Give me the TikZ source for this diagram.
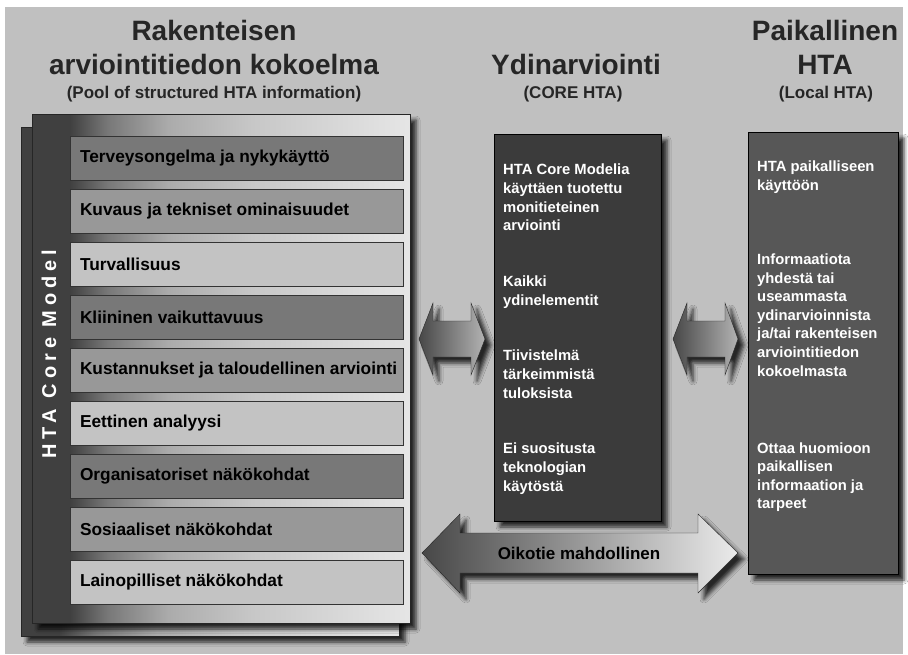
\documentclass[tikz,border=0pt]{standalone}
\usepackage{fontspec}
\setmainfont{Liberation Sans}
\usetikzlibrary{shadows.blur}

\definecolor{bggray}{HTML}{C0C0C0}
\definecolor{titlegray}{HTML}{262626}
\definecolor{rowdark}{HTML}{787878}
\definecolor{rowmid}{HTML}{989898}
\definecolor{rowlight}{HTML}{C3C3C3}
\definecolor{corefill}{HTML}{3B3B3B}
\definecolor{localfill}{HTML}{575757}

% dark strip on the left, fading to light grey on the right
\pgfdeclarehorizontalshading{panelshade}{100bp}{color(0bp)=(black!75); color(30bp)=(black!75);
  color(35bp)=(black!53); color(43bp)=(black!33); color(54bp)=(black!22);
  color(75bp)=(black!10); color(100bp)=(black!10)}

\begin{document}
\begin{tikzpicture}[
  x=1pt, y=-1pt,
  title/.style={font=\bfseries\fontsize{28}{32}\selectfont, text=titlegray, anchor=base, inner sep=0pt},
  subtitle/.style={font=\bfseries\fontsize{17}{20}\selectfont, text=titlegray, anchor=base, inner sep=0pt},
  softshadow/.style={blur shadow={shadow xshift=6pt, shadow yshift=-6pt, shadow opacity=80, shadow blur radius=4pt}},
  panel/.style={draw=black!85, shade, shading=panelshade, minimum width=378pt, minimum height=509pt, inner sep=0pt, softshadow},
  rowbox/.style={draw=black!80, minimum width=333pt, minimum height=44.5pt, inner sep=0pt},
  rowtext/.style={anchor=west, inner sep=0pt, font=\bfseries\fontsize{17.3}{20}\selectfont},
  infobox/.style={draw=black, inner sep=0pt, softshadow},
  infotext/.style={text=white, font=\bfseries\fontsize{14.8}{18.6}\selectfont, align=left, anchor=north west, inner sep=0pt},
  blockarrow/.style={draw=black!85, softshadow},
]
\useasboundingbox (0,0) rectangle (908,654);
\fill[white] (0,0) rectangle (908,654);
\fill[bggray] (5,7) rectangle (903,654);

% --- Headings ---
\node[title] (pooltitle1) at (214,40) {Rakenteisen};
\node[title] (pooltitle2) at (214,74) {arviointitiedon kokoelma};
\node[subtitle] (poolsub) at (214,98) {(Pool of structured HTA information)};
\node[title] (coretitle) at (576,74) {Ydinarviointi};
\node[subtitle] (coresub) at (573,98) {(CORE HTA)};
\node[title] (localtitle1) at (825,40) {Paikallinen};
\node[title] (localtitle2) at (825,74) {HTA};
\node[subtitle] (localsub) at (826,98) {(Local HTA)};

% --- Left: stacked pool of domains ---
\node[panel] (backpanel) at (210,381.5) {};
\node[panel] (frontpanel) at (221,368.5) {};
\node[rotate=90, text=white, inner sep=0pt, font=\bfseries\fontsize{20}{24}\selectfont\addfontfeature{LetterSpace=25}]
  (coremodel) at (49,354) {HTA Core Model};

\foreach \i/\rowfill/\txt in {
  1/rowdark/Terveysongelma ja nykykäyttö,
  2/rowmid/Kuvaus ja tekniset ominaisuudet,
  3/rowlight/Turvallisuus,
  4/rowdark/Kliininen vaikuttavuus,
  5/rowmid/Kustannukset ja taloudellinen arviointi,
  6/rowlight/Eettinen analyysi,
  7/rowdark/Organisatoriset näkökohdat,
  8/rowmid/Sosiaaliset näkökohdat,
  9/rowlight/Lainopilliset näkökohdat} {
  \node[rowbox, fill=\rowfill] (row\i) at (236.5, {158.25 + 53*(\i-1)}) {};
  \node[rowtext] (rowtxt\i) at ([xshift=10pt]row\i.west) {\txt};
}

% --- Middle: core assessment ---
\node[infobox, fill=corefill, minimum width=167pt, minimum height=387pt] (corebox) at (577.5,327.5) {};
\node[infotext] (coretext) at (503,164) {HTA Core Modelia\\ käyttäen tuotettu\\ monitieteinen\\ arviointi\\[37.2pt]
  Kaikki\\ ydinelementit\\[37.2pt]
  Tiivistelmä\\ tärkeimmistä\\ tuloksista\\[37.2pt]
  Ei suositusta\\ teknologian\\ käytöstä};

% --- Right: local HTA ---
\node[infobox, fill=localfill, minimum width=150pt, minimum height=442pt] (localbox) at (823,353) {};
\node[infotext] (localtext) at (757,161) {HTA paikalliseen\\ käyttöön\\[55.4pt]
  Informaatiota\\ yhdestä tai\\ useammasta\\ ydinarvioinnista\\ ja/tai rakenteisen\\ arviointitiedon\\ kokoelmasta\\[58.4pt]
  Ottaa huomioon\\ paikallisen\\ informaation ja\\ tarpeet};

% --- Double arrows ---
\shadedraw[blockarrow, left color=black!72, right color=black!30]
  (419,339) -- (433,303) -- (433,321) -- (471,321) -- (471,303) -- (485,339)
  -- (471,375) -- (471,357) -- (433,357) -- (433,375) -- cycle;
\shadedraw[blockarrow, left color=black!72, right color=black!30]
  (673,339) -- (687,303) -- (687,321) -- (725,321) -- (725,303) -- (738,339)
  -- (725,375) -- (725,357) -- (687,357) -- (687,375) -- cycle;
\shadedraw[blockarrow, left color=black!72, right color=black!8]
  (422,553) -- (460,514) -- (460,533) -- (698,533) -- (698,514) -- (738,553)
  -- (698,593) -- (698,573) -- (460,573) -- (460,593) -- cycle;
\node[font=\bfseries\fontsize{17}{20}\selectfont, anchor=base, inner sep=0pt] (shortcut) at (579,559) {Oikotie mahdollinen};

\end{tikzpicture}
\end{document}
